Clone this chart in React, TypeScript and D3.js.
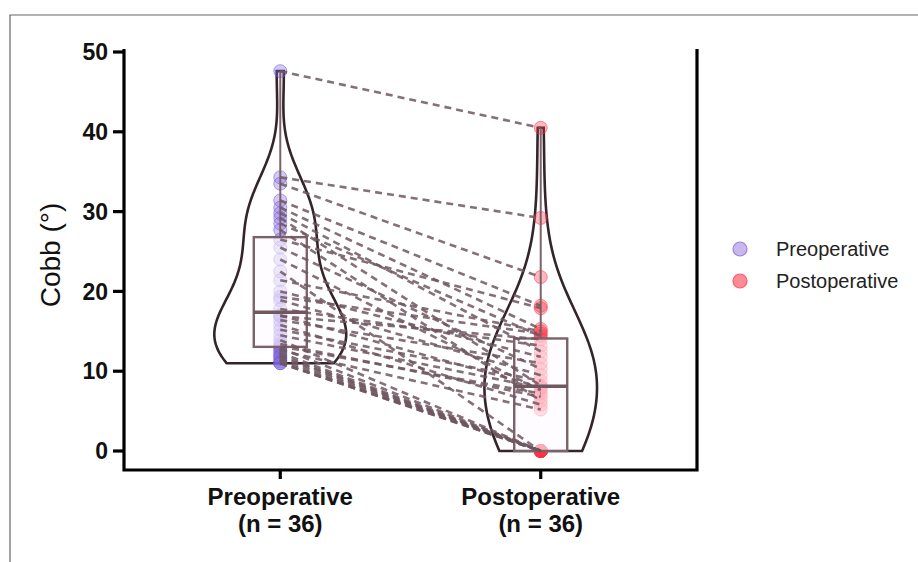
import React from "react";
import * as d3 from "d3";

const groups = ["Preoperative", "Postoperative"];
const groupN = ["(n = 36)", "(n = 36)"];
// paired Cobb angles, same patient at the same index
const preValues = [
  47.6, 34.3, 33.5, 31.4, 30.5, 29.8, 29.2, 28.5, 27.7, 26.5, 25.5, 24,
  22.5, 21.4, 20, 19.3, 18.9, 17.8, 17, 16.9, 16.4, 15.8, 15.2, 14.5,
  13.9, 13.4, 13.1, 12.9, 12.6, 12.3, 12, 11.8, 11.5, 11.2, 11, 11,
];
const postValues = [
  40.5, 29.2, 21.8, 18.2, 15.3, 12.5, 8.2, 14.4, 6.3, 17.9, 10.3, 7.6,
  0, 15, 11.8, 14.7, 9.5, 13.2, 8.0, 14.0, 11, 5.8, 8.8, 7.9,
  0, 6.8, 7.2, 0, 5.2, 0, 0, 0, 0, 0, 0, 0,
];
const bandwidths = [4.4, 6.1];
const yTicks = [0, 10, 20, 30, 40, 50];

const W = 918;
const H = 562;
const FONT = "'Liberation Sans', Arial, Helvetica, sans-serif";

const x = d3.scalePoint<string>().domain(groups).range([124, 697]).padding(0.6);
const y = d3.scaleLinear().domain([0, 50]).range([451, 52]);

function kde(values: number[], h: number, n = 100) {
  const [lo, hi] = d3.extent(values) as [number, number];
  return d3.range(n + 1).map((i) => {
    const v = lo + ((hi - lo) * i) / n;
    const d =
      (d3.mean(values, (xi) => Math.exp(-0.5 * ((v - xi) / h) ** 2)) as number) /
      (h * Math.sqrt(2 * Math.PI));
    return [v, d] as [number, number];
  });
}

const series = [
  { name: groups[0], values: preValues, fill: "rgba(130,100,225,0.35)", stroke: "rgba(115,90,215,0.55)" },
  { name: groups[1], values: postValues, fill: "rgba(255,50,70,0.35)", stroke: "rgba(255,50,70,0.55)" },
];

const densities = series.map((s, i) => kde(s.values, bandwidths[i]));
const dMax = d3.max(densities.flat(), (d) => d[1]) as number;
const w = d3.scaleLinear().domain([0, dMax]).range([0, 66]);

export default function App() {
  const boxW = 53;
  return (
    <svg width={W} height={H} style={{ position: "absolute", left: 0, top: 0 }} fontFamily={FONT}>
      <rect width={W} height={H} fill="#fff" />
      <path d={`M10,${H} V15 H${W}`} fill="none" stroke="#666" strokeWidth={1.2} />

      {series.map((s, i) => {
        const cx = x(s.name) as number;
        const area = d3
          .area<[number, number]>()
          .y((d) => y(d[0]))
          .x0((d) => cx - w(d[1]))
          .x1((d) => cx + w(d[1]))
          .curve(d3.curveBasis);
        const sorted = [...s.values].sort(d3.ascending);
        const q1 = d3.quantile(sorted, 0.25) as number;
        const med = d3.quantile(sorted, 0.5) as number;
        const q3 = d3.quantile(sorted, 0.75) as number;
        const mn = sorted[0];
        const mx = sorted[sorted.length - 1];
        return (
          <g key={s.name}>
            <path d={area(densities[i]) as string} fill="none" stroke="#33252b" strokeWidth={2.6} />
            {s.values.map((v, j) => (
              <circle key={j} cx={cx} cy={y(v)} r={6.5} fill={s.fill} stroke={s.stroke} strokeWidth={1} />
            ))}
            <rect x={cx - boxW / 2} y={y(q3)} width={boxW} height={y(q1) - y(q3)}
              fill="rgba(255,250,255,0.6)" stroke="#7b6268" strokeWidth={2.4} />
            <line x1={cx} x2={cx} y1={y(q3)} y2={y(mx)} stroke="#7b6268" strokeWidth={2} />
            <line x1={cx} x2={cx} y1={y(q1)} y2={y(mn)} stroke="#7b6268" strokeWidth={2} />
            <line x1={cx - boxW / 2} x2={cx + boxW / 2} y1={y(med)} y2={y(med)} stroke="#6f585e" strokeWidth={3.5} />
          </g>
        );
      })}

      {preValues.map((v, j) => (
        <line key={j} x1={x(groups[0])} y1={y(v)} x2={x(groups[1])} y2={y(postValues[j])}
          stroke="#6f5760" strokeOpacity={0.85} strokeWidth={2.6} strokeDasharray="7 5" />
      ))}

      {/* axes */}
      <g stroke="#000" strokeWidth={3.2} fill="none">
        <path d={`M124,49 V470 H697 V49`} />
        {yTicks.map((t) => (
          <line key={t} x1={113} x2={124} y1={y(t)} y2={y(t)} />
        ))}
        {groups.map((g) => (
          <line key={g} x1={x(g)} x2={x(g)} y1={470} y2={479} />
        ))}
      </g>
      {yTicks.map((t) => (
        <text key={t} x={108} y={y(t)} dy="0.36em" textAnchor="end" fontSize={23} fontWeight="bold" fill="#111">
          {t}
        </text>
      ))}
      {groups.map((g, i) => (
        <text key={g} x={x(g)} textAnchor="middle" fontSize={24} fontWeight="bold" fill="#111">
          <tspan x={x(g)} y={505}>{g}</tspan>
          <tspan x={x(g)} y={532}>{groupN[i]}</tspan>
        </text>
      ))}
      <text transform="translate(60,255) rotate(-90)" textAnchor="middle" fontSize={28} fill="#111">
        Cobb (°)
      </text>

      {/* legend */}
      {series.map((s, i) => (
        <g key={s.name} transform={`translate(740,${249 + i * 32})`}>
          <circle r={7} fill={i === 0 ? "#c9b8ee" : "#ff8c95"} stroke={i === 0 ? "#9a85da" : "#ff5a68"} strokeWidth={1.2} />
          <text x={36} y={0} dy="0.35em" fontSize={20} fill="#222">{s.name}</text>
        </g>
      ))}
    </svg>
  );
}
